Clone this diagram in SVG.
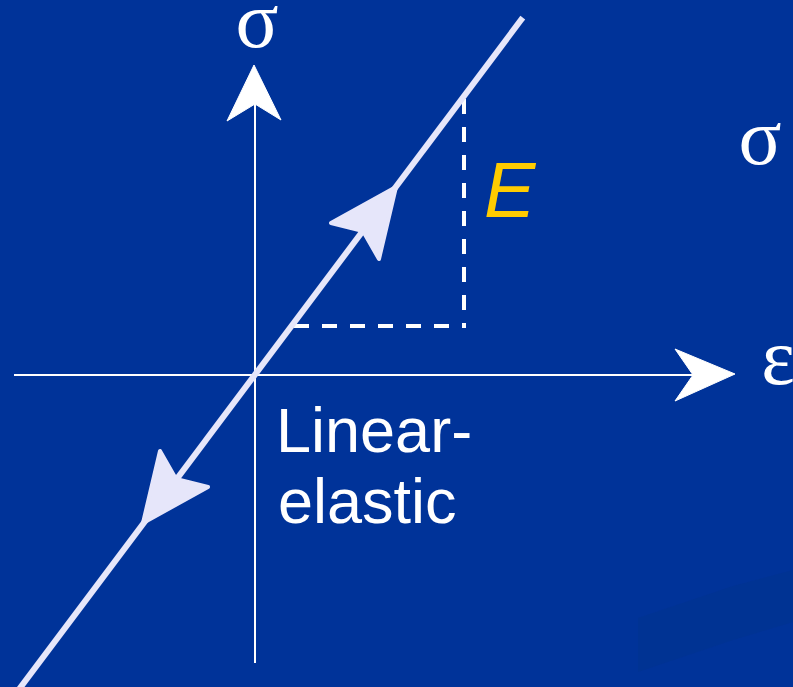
<svg xmlns="http://www.w3.org/2000/svg" width="793" height="687" viewBox="0 0 793 687">
  <style>
    .axis { stroke: #FFFFFF; stroke-width: 2; fill: none; }
    .axhead { fill: #FFFFFF; stroke: #FFFFFF; stroke-width: 1; stroke-linejoin: round; }
    .curve { stroke: #E6E6FA; stroke-width: 6; fill: none; stroke-linecap: square; }
    .chead { fill: #E6E6FA; stroke: #E6E6FA; stroke-width: 4; stroke-linejoin: round; }
    .dash { stroke: #FFFFFF; stroke-width: 4; fill: none; stroke-dasharray: 15 13; }
    .sym { font-family: "Liberation Serif", "Times New Roman", serif; font-size: 80px; fill: #FFFFFF; }
    .lbl { font-family: "Liberation Sans", Arial, sans-serif; font-size: 63px; fill: #FFFFFF; }
    .mod { font-family: "Liberation Sans", Arial, sans-serif; font-size: 77px; font-style: italic; fill: #FFCC00; }
  </style>
  <rect x="0" y="0" width="793" height="687" fill="#003399"/>
  <polygon points="638,618 733,586 793,570 793,622 733,640 638,672" fill="#00338F" opacity="0.6"/>

  <g id="connectors">
    <line class="axis" x1="255" y1="663" x2="255" y2="104"/>
    <polygon class="axhead" points="254,65 281,120 255,104 227,121"/>
    <line class="axis" x1="14" y1="375" x2="693" y2="375"/>
    <polygon class="axhead" points="735,374 675,401 693,375 675,349"/>
    <line class="dash" x1="464" y1="99" x2="464" y2="328"/>
    <line class="dash" x1="449" y1="326" x2="292" y2="326"/>
    <line class="curve" x1="521" y1="20" x2="14" y2="696"/>
    <polygon class="chead" points="396,187 379,259 363,231 331,223"/>
    <polygon class="chead" points="143,523 160,451 176,479 208,487"/>
  </g>

  <g id="label-sigma-top"><text class="sym" x="257" y="47" text-anchor="middle">σ</text></g>
  <g id="label-sigma-right"><text class="sym" x="760" y="164" text-anchor="middle">σ</text></g>
  <g id="label-epsilon"><text class="sym" x="778" y="384" text-anchor="middle">ε</text></g>
  <g id="label-E"><text class="mod" x="484" y="217">E</text></g>
  <g id="label-linear-elastic">
    <text class="lbl" x="276" y="452">Linear-</text>
    <text class="lbl" x="278" y="523">elastic</text>
  </g>
</svg>
